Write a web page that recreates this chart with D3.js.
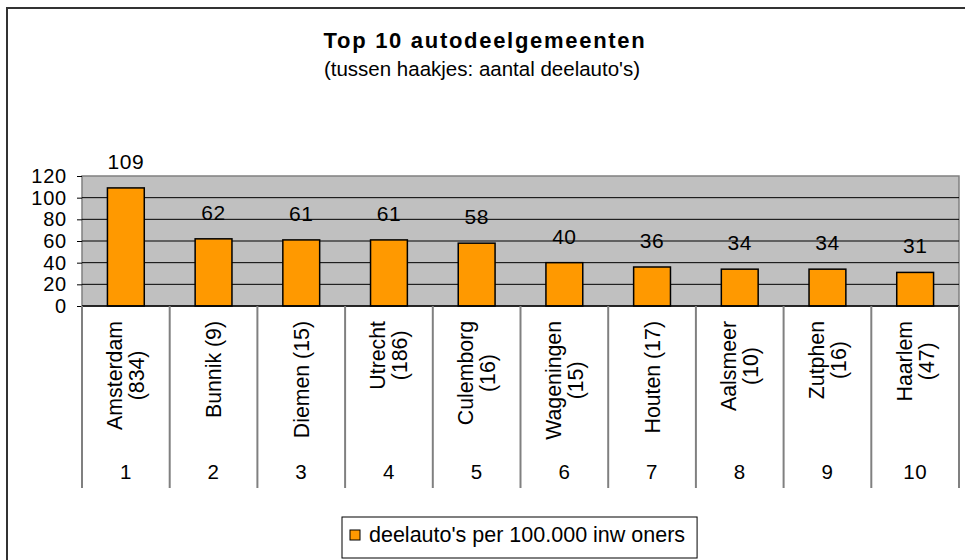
<!DOCTYPE html>
<html>
<head>
<meta charset="utf-8">
<script src="https://cdn.jsdelivr.net/npm/d3@7"></script>
<style>
  body { margin: 0; background: #fff; }
  svg { display: block; font-family: "Liberation Sans", Arial, sans-serif; }
</style>
</head>
<body>
<script>
// Values
const ranks = ['1', '2', '3', '4', '5', '6', '7', '8', '9', '10'];
const gemeenten = ['Amsterdam', 'Bunnik', 'Diemen', 'Utrecht', 'Culemborg',
                   'Wageningen', 'Houten', 'Aalsmeer', 'Zutphen', 'Haarlem'];
const deelautos = [834, 9, 15, 186, 16, 15, 17, 10, 16, 47];
const perInwoners = [109, 62, 61, 61, 58, 40, 36, 34, 34, 31];
const yTicks = [0, 20, 40, 60, 80, 100, 120];
const seriesName = "deelauto's per 100.000 inw oners";

const width = 965,
    height = 560;

const plot = { left: 82, right: 959, top: 176, bottom: 306 };
const catBottom = 488;
const orange = '#ff9900';

const svg = d3.select('body').append('svg')
    .attr('width', width)
    .attr('height', height);

// chart area border (only top and left visible)
svg.append('path')
    .attr('d', `M7,${height} V8 H${width}`)
    .attr('fill', 'none')
    .attr('stroke', '#333')
    .attr('stroke-width', 2);

/* ------- TITLES -------*/

svg.append('text')
    .attr('x', 485)
    .attr('y', 48)
    .attr('text-anchor', 'middle')
    .style('font-size', '22px')
    .style('font-weight', 'bold')
    .style('letter-spacing', '1.7px')
    .text('Top 10 autodeelgemeenten');

svg.append('text')
    .attr('x', 482)
    .attr('y', 76)
    .attr('text-anchor', 'middle')
    .style('font-size', '20.5px')
    .text("(tussen haakjes: aantal deelauto's)");

/* ------- SCALES -------*/

const x = d3.scaleBand()
    .domain(ranks)
    .range([plot.left, plot.right]);

const y = d3.scaleLinear()
    .domain([0, 120])
    .range([plot.bottom, plot.top]);

const barW = x.bandwidth() * 0.42;

/* ------- PLOT AREA -------*/

svg.append('rect')
    .attr('x', plot.left)
    .attr('y', plot.top)
    .attr('width', plot.right - plot.left)
    .attr('height', plot.bottom - plot.top)
    .attr('fill', '#c0c0c0')
    .attr('stroke', '#808080')
    .attr('stroke-width', 1.5);

svg.append('g')
    .selectAll('line')
    .data(yTicks.filter(d => d > 0 && d < 120))
    .enter().append('line')
        .attr('x1', plot.left)
        .attr('x2', plot.right)
        .attr('y1', d => y(d))
        .attr('y2', d => y(d))
        .attr('stroke', '#000')
        .attr('stroke-width', 1);

/* ------- BARS -------*/

const data = ranks.map((r, i) => ({
    rank: r,
    name: gemeenten[i],
    count: deelautos[i],
    value: perInwoners[i]
}));

svg.append('g')
    .selectAll('rect')
    .data(data)
    .enter().append('rect')
        .attr('x', d => x(d.rank) + (x.bandwidth() - barW) / 2)
        .attr('y', d => y(d.value))
        .attr('width', barW)
        .attr('height', d => y(0) - y(d.value))
        .attr('fill', orange)
        .attr('stroke', '#000')
        .attr('stroke-width', 1.5);

svg.append('g')
    .selectAll('text')
    .data(data)
    .enter().append('text')
        .attr('x', d => x(d.rank) + x.bandwidth() / 2)
        .attr('y', d => y(d.value) - 19)
        .attr('text-anchor', 'middle')
        .style('font-size', '21px')
        .style('letter-spacing', '0.5px')
        .text(d => d.value);

/* ------- Y AXIS -------*/

const yAxis = svg.append('g')
    .attr('transform', `translate(${plot.left},0)`)
    .call(d3.axisLeft(y).tickValues(yTicks).tickSize(5).tickPadding(10));

yAxis.select('.domain').remove();
yAxis.selectAll('line').attr('stroke', '#000');
yAxis.selectAll('text')
    .attr('fill', '#000')
    .style('font-size', '20px')
    .style('letter-spacing', '0.8px')
    .style('font-family', '"Liberation Sans", Arial, sans-serif');

/* ------- CATEGORY AXIS (two levels) -------*/

svg.append('line')
    .attr('x1', plot.left)
    .attr('x2', plot.right)
    .attr('y1', plot.bottom)
    .attr('y2', plot.bottom)
    .attr('stroke', '#000')
    .attr('stroke-width', 1.5);

const bounds = ranks.map(r => x(r)).concat([plot.right]);

svg.append('g')
    .selectAll('line')
    .data(bounds)
    .enter().append('line')
        .attr('x1', d => d)
        .attr('x2', d => d)
        .attr('y1', plot.bottom)
        .attr('y2', catBottom)
        .attr('stroke', '#808080')
        .attr('stroke-width', 2);

// rotated names, wrapped like Excel when too long
const labelSize = 21.3,
    lineH = 22,
    maxLen = 120,
    labelTop = 321;

const labels = svg.append('g')
    .selectAll('text')
    .data(data)
    .enter().append('text')
        .attr('text-anchor', 'middle')
        .style('font-size', labelSize + 'px');

labels.each(function(d) {
    const t = d3.select(this);
    const full = `${d.name} (${d.count})`;
    t.text(full);
    let lines = [full];
    if (this.getComputedTextLength() > maxLen) lines = [d.name, `(${d.count})`];
    t.text(null);
    lines.forEach(l => t.append('tspan').text(l));
    const longest = d3.max(t.selectAll('tspan').nodes(), n => n.getComputedTextLength());
    const cx = x(d.rank) + x.bandwidth() / 2;
    const cy = labelTop + longest / 2;
    t.attr('transform', `translate(${cx},${cy}) rotate(-90)`);
    t.selectAll('tspan')
        .attr('x', 0)
        .attr('y', (l, i) => (i - (lines.length - 1) / 2) * lineH + 0.35 * labelSize);
});

svg.append('g')
    .selectAll('text')
    .data(ranks)
    .enter().append('text')
        .attr('x', d => x(d) + x.bandwidth() / 2)
        .attr('y', 479)
        .attr('text-anchor', 'middle')
        .style('font-size', '20.5px')
        .style('letter-spacing', '0.5px')
        .text(d => d);

/* ------- LEGEND -------*/

const legendSize = 21.5;

const legend = svg.append('g')
    .attr('transform', 'translate(342,517)');

const legendBox = legend.append('rect')
    .attr('height', 41)
    .attr('fill', '#fff')
    .attr('stroke', '#000')
    .attr('stroke-width', 1);

legend.append('rect')
    .attr('x', 8)
    .attr('y', 13)
    .attr('width', 10)
    .attr('height', 10)
    .attr('fill', orange)
    .attr('stroke', '#000')
    .attr('stroke-width', 1);

const legendText = legend.append('text')
    .attr('x', 27)
    .attr('y', 25)
    .style('font-size', legendSize + 'px')
    .text(seriesName);

legendBox.attr('width', 27 + legendText.node().getComputedTextLength() + 12);
</script>
</body>
</html>
